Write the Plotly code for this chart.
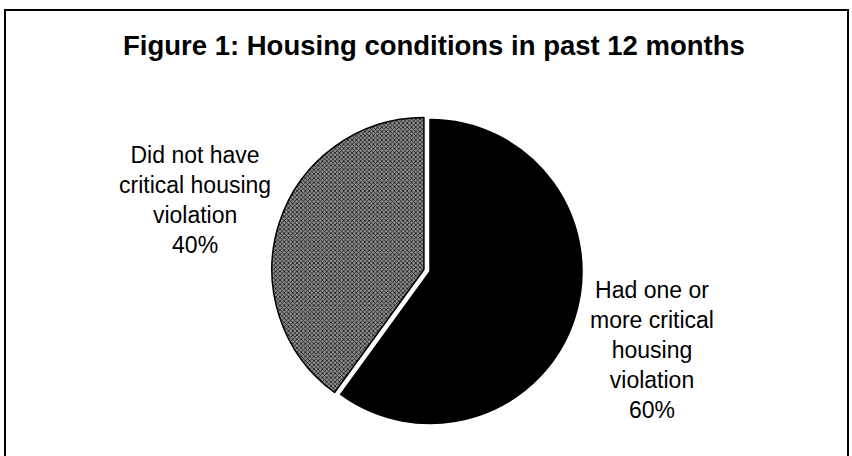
import plotly.graph_objects as go

# Data
categories = ["Had one or<br>more critical<br>housing<br>violation",
              "Did not have<br>critical housing<br>violation"]
values = [60, 40]
colors = ["#000000", "#8a8a8a"]
pulls = [0, 0.042]
title_text = "Figure 1: Housing conditions in past 12 months"

W, H = 852, 456
cx, cy, r = 430, 271.5, 152.0
half = r * (1 + max(pulls))

fig = go.Figure()
fig.add_trace(go.Pie(
    values=values,
    labels=categories,
    sort=False,
    direction="clockwise",
    rotation=0,
    pull=pulls,
    textinfo="none",
    hoverinfo="label+percent",
    showlegend=False,
    marker=dict(
        colors=colors,
        line=dict(color="#000000", width=1.5),
        pattern=dict(shape=["", "x"], fgcolor="#111111", bgcolor="#8e8e8e",
                     size=3, solidity=0.45),
    ),
    domain=dict(x=[(cx - half) / W, (cx + half) / W],
                y=[(H - cy - half) / H, (H - cy + half) / H]),
))

# label positions (pixel-based, converted to paper)
label_pos = [(652, 350), (195, 200)]
for cat, val, (lx, ly) in zip(categories, values, label_pos):
    fig.add_annotation(
        x=lx / W, y=1 - ly / H, xref="paper", yref="paper",
        text=f"{cat}<br>{val}%", showarrow=False,
        xanchor="center", yanchor="middle", align="center",
        font=dict(family="Liberation Sans, Arial, sans-serif", size=23, color="#000000"),
    )

fig.add_annotation(
    x=433.5 / W, y=1 - 45 / H, xref="paper", yref="paper",
    text=f"<b>{title_text}</b>", showarrow=False,
    xanchor="center", yanchor="middle",
    font=dict(family="Liberation Sans, Arial, sans-serif", size=27.5, color="#000000"),
)

# chart border
fig.add_shape(type="rect", xref="paper", yref="paper",
              x0=5 / W, x1=848 / W, y0=-0.05, y1=1 - 10 / H,
              line=dict(color="#000000", width=2), fillcolor="rgba(0,0,0,0)")

fig.update_layout(
    width=W, height=H,
    margin=dict(l=0, r=0, t=0, b=0),
    paper_bgcolor="#ffffff",
    plot_bgcolor="#ffffff",
)

fig.write_html("out.html")
